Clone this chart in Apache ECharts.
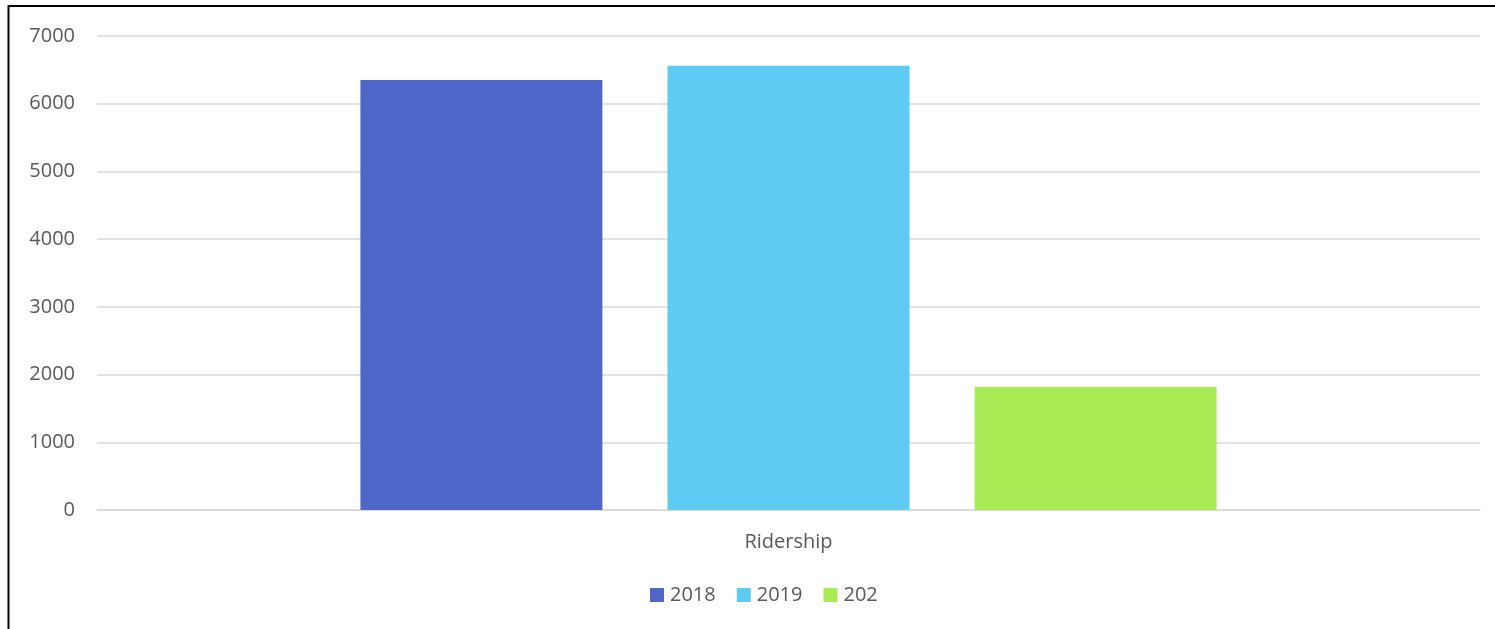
<!DOCTYPE html>
<html><head><meta charset="utf-8">
<script src="https://cdn.jsdelivr.net/npm/echarts@6/dist/echarts.min.js"></script>
<style>html,body{margin:0;padding:0;background:#fff;}#c{width:1495px;height:629px;}</style>
</head><body><div id="c"></div>
<script>
const categories = ['Ridership'];
const seriesNames = ['2018', '2019', '202'];
const values2018 = [6350];
const values2019 = [6560];
const values202 = [1815];
const colors = ['#4F67C8', '#5DCBF2', '#A9EB54'];
const yTicks = { min: 0, max: 7000, interval: 1000 };

const chart = echarts.init(document.getElementById('c'));
const font = 'Open Sans';
const txt = '#595959';
const fs = 20;
const data = [values2018, values2019, values202];
chart.setOption({
  animation: false,
  graphic: [{ type: 'rect', shape: { x: 8.5, y: 6, width: 1600, height: 700 }, style: { fill: 'none', stroke: '#000', lineWidth: 2 }, z: 100 }],
  grid: { left: 97, right: 15, top: 36, bottom: 119, containLabel: false },
  legend: {
    top: 580, left: 645, itemWidth: 14, itemHeight: 14, itemGap: 21,
    icon: 'rect',
    textStyle: { color: txt, fontSize: fs, fontFamily: font, padding: [0, 0, 0, 1] }
  },
  xAxis: {
    type: 'category', data: categories,
    axisLine: { lineStyle: { color: '#D9D9D9', width: 1.5 } },
    axisTick: { show: false },
    axisLabel: { color: txt, fontSize: fs, fontFamily: font, margin: 22 }
  },
  yAxis: {
    type: 'value', min: yTicks.min, max: yTicks.max, interval: yTicks.interval,
    axisLine: { show: false }, axisTick: { show: false },
    splitLine: { lineStyle: { color: '#D9D9D9', width: 1.5 } },
    axisLabel: { color: txt, fontSize: fs, fontFamily: font, margin: 22, formatter: v => String(v) }
  },
  series: seriesNames.map((n, i) => ({
    name: n, type: 'bar', data: data[i], barWidth: 242, barGap: '26.9%',
    itemStyle: { color: colors[i] }
  }))
});
</script></body></html>
